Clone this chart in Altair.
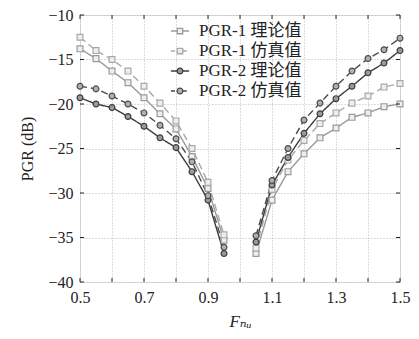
import altair as alt
import pandas as pd

x_left = [0.5, 0.55, 0.6, 0.65, 0.7, 0.75, 0.8, 0.85, 0.9, 0.95]
x_right = [1.05, 1.1, 1.15, 1.2, 1.25, 1.3, 1.35, 1.4, 1.45, 1.5]

series = ["PGR-1 理论值", "PGR-1 仿真值", "PGR-2 理论值", "PGR-2 仿真值"]

p1_theory_left = [-13.8, -14.9, -16.3, -17.6, -19.3, -21.1, -22.8, -25.9, -29.5, -35.3]
p1_sim_left = [-12.5, -14.0, -15.0, -16.3, -18.0, -19.9, -21.9, -25.0, -28.8, -34.7]
p2_theory_left = [-19.3, -20.0, -20.4, -21.4, -22.5, -23.8, -24.9, -27.6, -30.8, -36.8]
p2_sim_left = [-18.0, -18.3, -19.1, -20.0, -21.0, -22.4, -23.9, -26.5, -30.3, -36.1]

p1_theory_right = [-36.8, -30.8, -27.6, -25.6, -23.8, -22.7, -21.5, -21.0, -20.3, -20.0]
p1_sim_right = [-36.2, -29.6, -26.3, -24.1, -22.2, -21.0, -19.9, -19.1, -18.1, -17.7]
p2_theory_right = [-35.5, -29.1, -26.0, -23.3, -21.1, -19.4, -18.0, -16.5, -15.4, -14.0]
p2_sim_right = [-34.8, -28.6, -25.0, -21.8, -19.9, -18.0, -16.3, -14.9, -13.9, -12.6]

x_ticks = [0.5, 0.6, 0.7, 0.8, 0.9, 1.0, 1.1, 1.2, 1.3, 1.4, 1.5]
x_labels = ["0.5", "0.7", "0.9", "1.1", "1.3", "1.5"]
y_ticks = [-40, -35, -30, -25, -20, -15, -10]

left = {series[0]: p1_theory_left, series[1]: p1_sim_left,
        series[2]: p2_theory_left, series[3]: p2_sim_left}
right = {series[0]: p1_theory_right, series[1]: p1_sim_right,
         series[2]: p2_theory_right, series[3]: p2_sim_right}

rows = []
for s in series:
    for xv, yv in zip(x_left, left[s]):
        rows.append({"series": s, "branch": "L", "x": xv, "y": yv})
    for xv, yv in zip(x_right, right[s]):
        rows.append({"series": s, "branch": "R", "x": xv, "y": yv})
df = pd.DataFrame(rows)
xt_df = pd.DataFrame({"x": x_ticks})
yt_df = pd.DataFrame({"y": y_ticks})

W, H = 320, 267
TL = 4  # inward tick length

FONT = "Liberation Serif, DejaVu Serif, Noto Sans CJK SC"
INK = "#222222"

COLORS = ["#9a9a9a", "#a8a8a8", "#3c3c3c", "#4a4a4a"]
FILLS = ["#eeeeee", "#eeeeee", "#9a9a9a", "#b0b0b0"]


def color_scale():
    return alt.Scale(domain=series, range=COLORS)


def fill_scale():
    return alt.Scale(domain=series, range=FILLS)


dash_scale = alt.Scale(domain=series, range=[[1, 0], [7, 4], [1, 0], [7, 4]])
shape_scale = alt.Scale(domain=series, range=["square", "square", "circle", "circle"])

# legend glyphs: a short line with the marker in the middle (unit box -1..1)
SQ = "M-0.3,-0.3H0.3V0.3H-0.3Z"
CI = "M0.32,0A0.32,0.32 0 1 1 -0.32,0A0.32,0.32 0 1 1 0.32,0Z"
SOLID = "M-1,0L-0.3,0M0.3,0L1,0"
DASHED = "M-1,0L-0.55,0M0.3,0L0.75,0"
legend_shape_scale = alt.Scale(domain=series,
                               range=[SOLID + SQ, DASHED + SQ, SOLID + CI, DASHED + CI])

legend = alt.Legend(title=None, orient="none", legendX=90, legendY=6,
                    labelFont=FONT, labelFontSize=17, labelColor=INK,
                    rowPadding=2, symbolSize=330, symbolStrokeWidth=1.3,
                    labelOffset=9)

xaxis = alt.Axis(values=x_ticks, format=".1f",
                 labelExpr="indexof(" + str(x_labels) + ", datum.label) >= 0 ? datum.label : ''",
                 title="Fₙᵤ", titleFontStyle="italic", titleFontWeight="normal",
                 titleFontSize=17, titlePadding=8, labelFlush=False,
                 grid=True, gridDash=[1, 2], gridColor="#bbbbbb",
                 tickSize=0, labelPadding=7, domain=False,
                 labelFont=FONT, labelFontSize=16, titleFont=FONT,
                 labelColor=INK, titleColor=INK)
yaxis = alt.Axis(values=y_ticks, title="PGR (dB)", labelFlush=False,
                 titleFontWeight="normal", titleFontSize=16, titlePadding=12,
                 grid=True, gridDash=[1, 2], gridColor="#bbbbbb",
                 tickSize=0, labelPadding=7, domain=False,
                 labelFont=FONT, labelFontSize=16, titleFont=FONT,
                 labelColor=INK, titleColor=INK)


def X():
    return alt.X("x:Q", scale=alt.Scale(domain=[0.5, 1.5], nice=False), axis=xaxis)


def Y():
    return alt.Y("y:Q", scale=alt.Scale(domain=[-40, -10], nice=False), axis=yaxis)


lines = alt.Chart(df).mark_line(strokeWidth=1.4).encode(
    x=X(), y=Y(),
    color=alt.Color("series:N", scale=color_scale(), legend=None),
    strokeDash=alt.StrokeDash("series:N", scale=dash_scale, legend=None),
    detail="branch:N",
)
points = alt.Chart(df).mark_point(filled=False, size=34, strokeWidth=1.2, opacity=1).encode(
    x=X(), y=Y(),
    color=alt.Color("series:N", scale=color_scale(), legend=None),
    shape=alt.Shape("series:N", scale=shape_scale, legend=None),
    fill=alt.Fill("series:N", scale=fill_scale(), legend=None),
)
# legend-only layer (draws no marks; supplies the legend)
legend_layer = alt.Chart(df).transform_filter("false").mark_point(
    filled=False, opacity=1).encode(
    x=X(), y=Y(),
    color=alt.Color("series:N", scale=color_scale(), legend=legend),
    shape=alt.Shape("series:N", scale=legend_shape_scale, legend=legend),
    fill=alt.Fill("series:N", scale=fill_scale(), legend=legend),
)

# inward ticks on all four sides of the frame
tick_style = dict(color=INK, strokeWidth=1)
bottom_ticks = alt.Chart(xt_df).mark_rule(**tick_style).encode(
    x=X(), y=alt.value(H - TL), y2=alt.value(H))
top_ticks = alt.Chart(xt_df).mark_rule(**tick_style).encode(
    x=X(), y=alt.value(0), y2=alt.value(TL))
left_ticks = alt.Chart(yt_df).mark_rule(**tick_style).encode(
    y=Y(), x=alt.value(0), x2=alt.value(TL))
right_ticks = alt.Chart(yt_df).mark_rule(**tick_style).encode(
    y=Y(), x=alt.value(W - TL), x2=alt.value(W))

chart = alt.layer(lines, points, legend_layer,
                  bottom_ticks, top_ticks, left_ticks, right_ticks).resolve_scale(
    color="independent", fill="independent", shape="independent",
    strokeDash="independent",
).properties(
    width=W, height=H,
    autosize=alt.AutoSizeParams(type="none"),
    padding={"left": 72, "top": 7, "right": 11, "bottom": 49},
).configure_view(stroke=INK, strokeWidth=1.5).configure(background="white")

chart.save("out.html", embed_options={"renderer": "svg", "actions": False})
